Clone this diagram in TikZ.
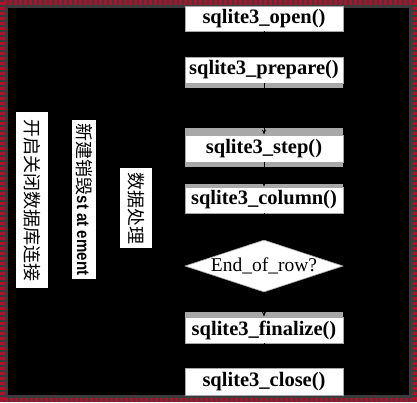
\documentclass[tikz,border=0pt]{standalone}
\usepackage{fontspec}
\setmainfont{Liberation Serif}
\setsansfont{Liberation Sans}
\newfontfamily\cjk{Noto Sans CJK SC}
\usetikzlibrary{shapes.geometric,arrows.meta}
\definecolor{framered}{HTML}{B0102A}
\definecolor{framegray}{HTML}{3C3C3C}
\definecolor{bandgray}{HTML}{A8A8A8}
\tikzset{
  fnbox/.style={draw=bandgray, line width=0.8pt, fill=white, minimum width=158pt, minimum height=26pt, inner sep=0pt, font=\fontsize{20.5}{20.5}\selectfont\bfseries},
  decision/.style={diamond, aspect=3.04, fill=white, draw=bandgray, line width=0.6pt, inner sep=0pt, minimum width=158pt, minimum height=52pt, font=\fontsize{19.5}{19.5}\selectfont},
  sidelabel/.style={fill=white, rotate=-90, inner sep=0pt, font=\cjk\fontsize{18}{18}\selectfont},
  flow/.style={draw=black, line width=0.8pt, -{Stealth[length=5pt,width=4pt]}},
  band/.style={fill=bandgray, draw=none}
}
\begin{document}
\begin{tikzpicture}[x=1pt,y=-1pt]
\useasboundingbox (0,0) rectangle (417,402);
% frame
\fill[framegray] (0,0) rectangle (417,402);
\draw[framered, line width=4.5pt, dash pattern=on 3pt off 2pt] (2.25,2.25) rectangle (414.75,399.75);
\fill[black] (8,8) rectangle (409,395);
% grey bands round the boxes
\fill[band] (185,83) rectangle (343,88);
\fill[band] (185,128) rectangle (343,135);
\fill[band] (185,162) rectangle (343,167);
\fill[band] (185,184) rectangle (343,187);
\fill[band] (185,312) rectangle (343,317);
% flow boxes
\node[fnbox, minimum height=25pt] (open) at (264,18.5) {sqlite3\_open()};
\node[fnbox] (prepare) at (264,70) {sqlite3\_prepare()};
\node[fnbox, minimum height=27pt] (step) at (264,148.5) {sqlite3\_step()};
\node[fnbox] (column) at (264,200) {sqlite3\_column()};
\node[decision] (end) at (264,266) {End\_of\_row?};
\node[fnbox] (finalize) at (264,330) {sqlite3\_finalize()};
\node[fnbox, minimum height=27pt] (close) at (264,381.5) {sqlite3\_close()};
% connectors
\draw[flow] (open) -- (prepare);
\draw[flow] (prepare) -- (step);
\draw[flow] (step) -- (column);
\draw[flow] (column) -- (end);
\draw[flow] (end) -- (finalize);
\draw[flow] (finalize) -- (close);
% side labels
\node[sidelabel, minimum width=176pt, minimum height=32pt] (conn) at (32,200) {开启关闭数据库连接};
\node[sidelabel, minimum width=159pt, minimum height=24pt] (stmt) at (84,199.5) {新建销毁{\sffamily\bfseries\fontsize{17.5}{17.5}\selectfont\scalebox{0.86}[1]{st at ement}}};
\node[sidelabel, minimum width=80pt, minimum height=32pt] (data) at (136,208) {数据处理};
\end{tikzpicture}
\end{document}
